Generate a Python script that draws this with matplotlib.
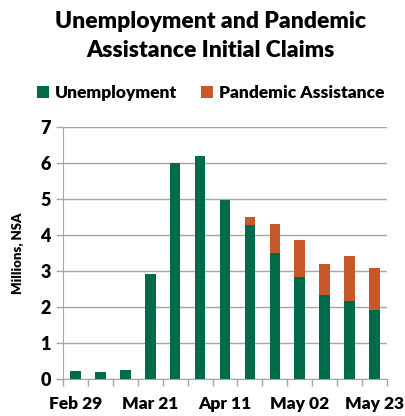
import numpy as np
import matplotlib.pyplot as plt

weeks = ['Feb 29', 'Mar 07', 'Mar 14', 'Mar 21', 'Mar 28', 'Apr 04', 'Apr 11',
         'Apr 18', 'Apr 25', 'May 02', 'May 09', 'May 16', 'May 23']
unemployment = [0.21, 0.19, 0.24, 2.91, 6.01, 6.20, 4.96, 4.27, 3.51, 2.84, 2.34, 2.17, 1.91]
pandemic = [0, 0, 0, 0, 0, 0, 0, 0.23, 0.79, 1.01, 0.86, 1.25, 1.18]
shown_labels = ['Feb 29', 'Mar 21', 'Apr 11', 'May 02', 'May 23']

green = '#006B4A'
orange = '#C8582A'
font = 'Lato'

fig = plt.figure(figsize=(4.05, 4.16), dpi=100)
ax = fig.add_axes([0.156, 0.089, 0.799, 0.606])

x = np.arange(len(weeks))
ax.bar(x, unemployment, width=0.42, color=green, label='Unemployment', zorder=3)
ax.bar(x, pandemic, width=0.42, bottom=unemployment, color=orange,
       label='Pandemic Assistance', zorder=3)

ax.set_xlim(-0.5, len(weeks) - 0.5)
ax.set_ylim(0, 7)
ax.set_yticks(range(8))
ax.yaxis.grid(True, color='#A6A6A6', linewidth=1.0, zorder=0)
ax.tick_params(axis='y', length=5, color='#A6A6A6', width=1, pad=4)
ax.set_yticklabels([str(i) for i in range(8)], fontfamily=font,
                   fontweight='heavy', fontsize=13)

ax.set_xticks(np.arange(-0.5, len(weeks)), minor=True)
ax.set_xticks([weeks.index(w) for w in shown_labels])
ax.set_xticklabels(shown_labels, fontfamily=font, fontweight='heavy', fontsize=12.5)
ax.tick_params(axis='x', which='major', length=0, pad=12)
ax.tick_params(axis='x', which='minor', length=5, color='#A6A6A6', width=1)

for s in ['top', 'right']:
    ax.spines[s].set_visible(False)
for s in ['left', 'bottom']:
    ax.spines[s].set_color('#A6A6A6')

ax.set_ylabel('Millions, NSA', fontfamily=font, fontweight='heavy', fontsize=9.5,
              labelpad=12)

fig.text(0.52, 0.913, 'Unemployment and Pandemic\nAssistance Initial Claims',
         ha='center', va='center', fontfamily=font, fontweight='heavy',
         fontsize=16.5, linespacing=1.45)

leg = fig.legend(loc='center', bbox_to_anchor=(0.52, 0.776), ncol=2, frameon=False,
                 handlelength=0.7, handleheight=0.7, handletextpad=0.3,
                 columnspacing=1.4, prop={'family': font, 'weight': 'heavy', 'size': 12.5})

fig.savefig('out.png', dpi=100)
